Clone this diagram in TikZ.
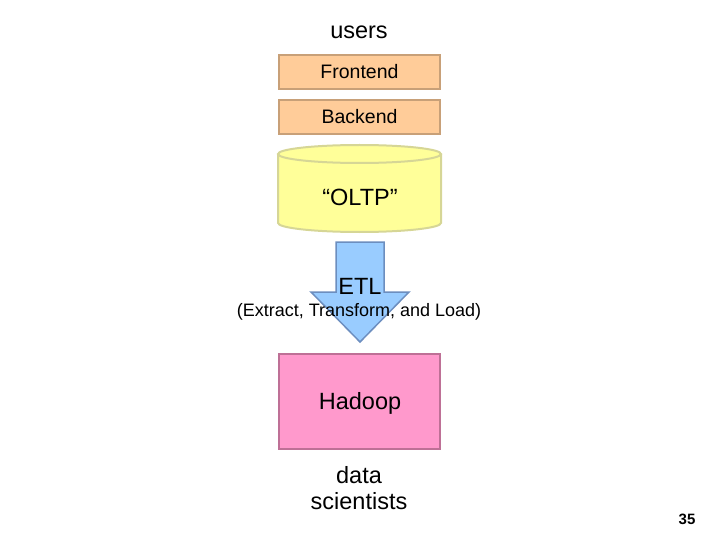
\documentclass[tikz,border=0pt]{standalone}
\usepackage{fontspec}
\setmainfont{Liberation Sans}

\definecolor{peachfill}{RGB}{255,204,153}
\definecolor{peachline}{RGB}{200,160,120}
\definecolor{oltpfill}{RGB}{255,255,153}
\definecolor{oltpline}{RGB}{214,214,150}
\definecolor{etlfill}{RGB}{153,204,255}
\definecolor{etlline}{RGB}{108,142,191}
\definecolor{hadoopfill}{RGB}{255,153,204}
\definecolor{hadoopline}{RGB}{190,112,150}

\tikzset{
    layer/.style={draw=peachline, fill=peachfill, line width=2pt, minimum width=161pt, minimum height=34pt, font=\fontsize{19.5}{22}\selectfont},
    bigtext/.style={font=\fontsize{23.5}{28}\selectfont, align=center}
}

\begin{document}
\begin{tikzpicture}[x=1pt, y=-1pt]
    \useasboundingbox (0,0) rectangle (720,540);

    % Utenti e livelli applicativi
    \node[bigtext, anchor=base] (users) at (359,39) {users};
    \node[layer] (frontend) at (359.5,72) {Frontend};
    \node[layer] (backend) at (359.5,117) {Backend};

    % Il database transazionale (cilindro)
    \fill[oltpfill] (278,154) rectangle (441,223);
    \fill[oltpfill] (359.5,223) ellipse [x radius=81.5, y radius=9];
    \draw[oltpline, line width=2pt] (278,154) -- (278,223)
        arc[start angle=180, end angle=0, x radius=81.5, y radius=9] -- (441,154);
    \draw[oltpline, fill=oltpfill, line width=2pt] (359.5,154) ellipse [x radius=81.5, y radius=9];
    \node[bigtext] (oltp) at (360,197) {``OLTP''};

    % Freccia ETL
    \draw[draw=etlline, fill=etlfill, line width=1.5pt]
        (336,242) -- (384,242) -- (384,292) -- (409,292) -- (360,342)
        -- (311,292) -- (336,292) -- cycle;
    \node[bigtext, anchor=base] (etl) at (360,294) {ETL};
    \node[font=\fontsize{18}{20}\selectfont, anchor=base] (etlnote) at (359,316) {(Extract, Transform, and Load)};

    % Cluster e scienziati dei dati
    \node[draw=hadoopline, fill=hadoopfill, line width=2pt, minimum width=161pt, minimum height=95pt] (hadoop) at (359.5,401.5) {};
    \node[bigtext, anchor=base] (hadooptext) at (360,409) {Hadoop};
    \node[bigtext, anchor=base] (data) at (359,483) {data};
    \node[bigtext, anchor=base] (scientists) at (359,509) {scientists};

    \node[font=\fontsize{15}{18}\selectfont\bfseries, anchor=base] (page) at (687,524) {35}; % numero di pagina
\end{tikzpicture}
\end{document}
